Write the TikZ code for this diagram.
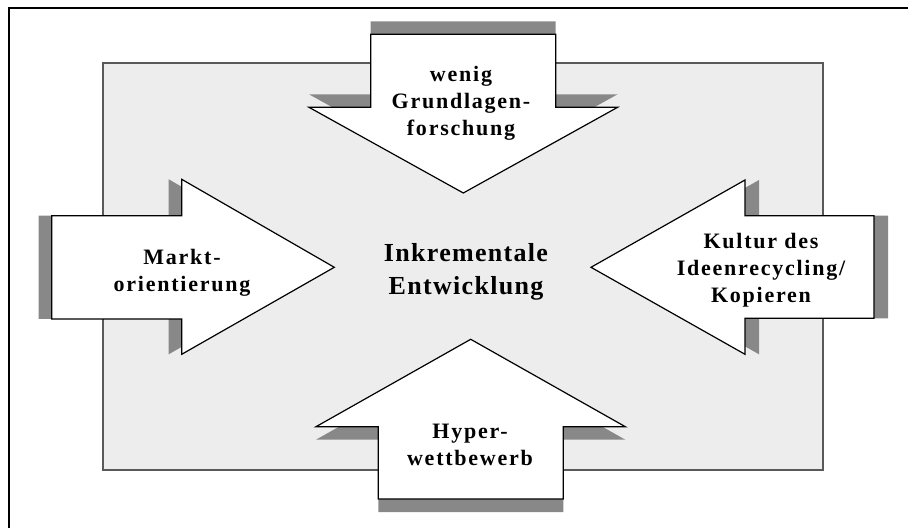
\documentclass[tikz,border=0pt]{standalone}
\usepackage{fontspec}
\setmainfont{Liberation Serif}
\newfontfamily\lblfont[LetterSpace=8]{Liberation Serif}
\newfontfamily\ctrfont[LetterSpace=5]{Liberation Serif}
\definecolor{panelgray}{HTML}{EDEDED}
\definecolor{shadowgray}{HTML}{888888}
\begin{document}
\begin{tikzpicture}[x=0.5pt,y=-0.5pt,
  panel/.style={fill=panelgray,draw=black!65,line width=0.6pt},
  arrowshape/.style={fill=white,draw=black,line width=0.6pt,line join=miter},
  arrowshadow/.style={fill=shadowgray,draw=none},
  arrowlabel/.style={align=center,inner sep=0pt,font=\lblfont\bfseries\fontsize{11}{13.5}\selectfont},
  centerlabel/.style={align=center,inner sep=0pt,font=\ctrfont\bfseries\fontsize{13}{16.5}\selectfont}]
\useasboundingbox (0,0) rectangle (908,528);
% outer frame (top and left edges)
\draw[line width=1pt] (908,8.5) -- (9,8.5) -- (9,528);
% background panel
\draw[panel] (103,63) rectangle (823,470);
% shadows
\fill[arrowshadow,shift={(0,-13)}] (370.7,34.3) -- (555.7,34.3) -- (555.7,107.3) -- (617.6,107.3) -- (463.3,193) -- (309,107.3) -- (370.7,107.3) -- cycle;
\fill[arrowshadow,shift={(-13,0)}] (51.7,215.7) -- (181.7,215.7) -- (181.7,179.3) -- (334.3,267.3) -- (181.7,354.3) -- (181.7,319) -- (51.7,319) -- cycle;
\fill[arrowshadow,shift={(14,0)}] (874,215.7) -- (745,215.7) -- (745,180) -- (591,267.3) -- (745,354.3) -- (745,318.3) -- (874,318.3) -- cycle;
\fill[arrowshadow,shift={(0,13)}] (378.3,499) -- (563.3,499) -- (563.3,426.7) -- (625.3,426.7) -- (470.7,339.3) -- (316,426.7) -- (378.3,426.7) -- cycle;
% arrows
\draw[arrowshape] (370.7,34.3) -- (555.7,34.3) -- (555.7,107.3) -- (617.6,107.3) -- (463.3,193) -- (309,107.3) -- (370.7,107.3) -- cycle;
\draw[arrowshape] (51.7,215.7) -- (181.7,215.7) -- (181.7,179.3) -- (334.3,267.3) -- (181.7,354.3) -- (181.7,319) -- (51.7,319) -- cycle;
\draw[arrowshape] (874,215.7) -- (745,215.7) -- (745,180) -- (591,267.3) -- (745,354.3) -- (745,318.3) -- (874,318.3) -- cycle;
\draw[arrowshape] (378.3,499) -- (563.3,499) -- (563.3,426.7) -- (625.3,426.7) -- (470.7,339.3) -- (316,426.7) -- (378.3,426.7) -- cycle;
% labels
\node[arrowlabel] (top) at (461,103) {wenig\\Grundlagen-\\forschung};
\node[arrowlabel] (left) at (182,273) {Markt-\\orientierung};
\node[arrowlabel] (right) at (761,270) {Kultur des\\Ideenrecycling/\\Kopieren};
\node[arrowlabel] (bottom) at (470,445) {Hyper-\\wettbewerb};
\node[centerlabel] (center) at (466,272) {Inkrementale\\Entwicklung};
\end{tikzpicture}
\end{document}
